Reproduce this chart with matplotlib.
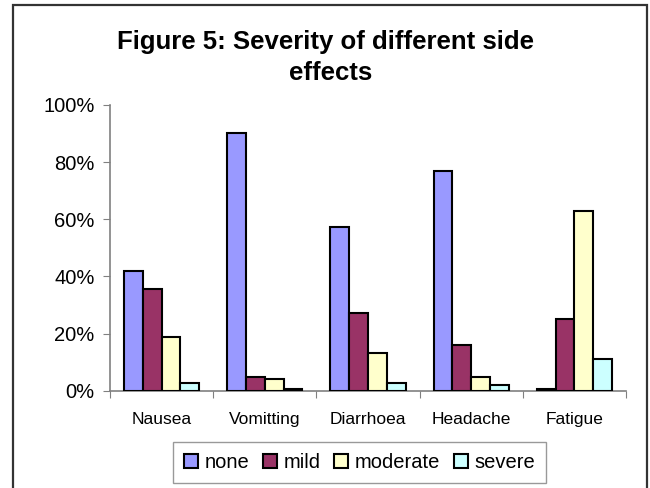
import matplotlib
matplotlib.use("Agg")
import matplotlib.pyplot as plt
import numpy as np
from matplotlib.patches import Rectangle

plt.rcParams['font.family'] = ['Liberation Sans', 'DejaVu Sans']

categories = ["Nausea", "Vomitting", "Diarrhoea", "Headache", "Fatigue"]
series_names = ["none", "mild", "moderate", "severe"]
none_vals = [42.0, 90.3, 57.4, 77.0, 0.5]
mild_vals = [35.6, 4.9, 27.3, 16.0, 25.2]
moderate_vals = [18.8, 4.2, 13.2, 4.9, 63.0]
severe_vals = [2.8, 0.7, 2.8, 2.1, 11.2]
colors = ["#9999FF", "#993366", "#FFFFCC", "#CCFFFF"]
yticks = [0, 20, 40, 60, 80, 100]
ytick_labels = ["0%", "20%", "40%", "60%", "80%", "100%"]

W, H = 650, 488
fig = plt.figure(figsize=(W / 100, H / 100), dpi=100)

# outer chart frame
fig.patches.append(Rectangle((13 / W, -0.05), (646.5 - 13) / W, 1 - 5 / H + 0.05,
                             transform=fig.transFigure, fill=False,
                             edgecolor="#333333", linewidth=1.6))

ax = fig.add_axes([110 / W, (H - 390.7) / H, (626 - 110) / W, (390.7 - 105) / H])

series = [none_vals, mild_vals, moderate_vals, severe_vals]
n = len(categories)
bw = 1 / 5.5
x = np.arange(n) + 0.5
for i, (vals, c, name) in enumerate(zip(series, colors, series_names)):
    ax.bar(x + (i - 1.5) * bw, vals, width=bw, color=c, edgecolor="black",
           linewidth=1.5, label=name, zorder=3)

ax.set_xlim(0, n)
ax.set_ylim(0, 100)
ax.set_yticks(yticks)
ax.set_yticklabels(ytick_labels, fontsize=14.5)
ax.set_xticks(np.arange(n + 1))
ax.set_xticklabels([])
ax.set_xticks(x, minor=True)
ax.set_xticklabels(categories, minor=True, fontsize=12.5)
ax.tick_params(axis="x", which="minor", length=0, pad=15)
ax.tick_params(axis="x", which="major", length=5, color="#808080", direction="out")
ax.tick_params(axis="y", length=5, color="#808080", direction="out", pad=6)
for s in ["top", "right"]:
    ax.spines[s].set_visible(False)
for s in ["left", "bottom"]:
    ax.spines[s].set_color("#808080")
    ax.spines[s].set_linewidth(1.2)

fig.text(326 / W, 1 - 42 / H, "Figure 5: Severity of different side",
         ha="center", va="center", fontsize=18.5, fontweight="bold")
fig.text(331 / W, 1 - 73 / H, "effects",
         ha="center", va="center", fontsize=18.5, fontweight="bold")

leg = fig.legend(loc="center", bbox_to_anchor=(359.5 / W, 1 - 462.5 / H), ncol=4,
                 fontsize=14.5, frameon=True, fancybox=False, handlelength=0.7,
                 handleheight=0.7, handletextpad=0.3, columnspacing=0.7,
                 borderpad=0.55, borderaxespad=0)
leg.get_frame().set_edgecolor("#808080")
leg.get_frame().set_linewidth(1.0)

fig.savefig("out.png", dpi=100)
